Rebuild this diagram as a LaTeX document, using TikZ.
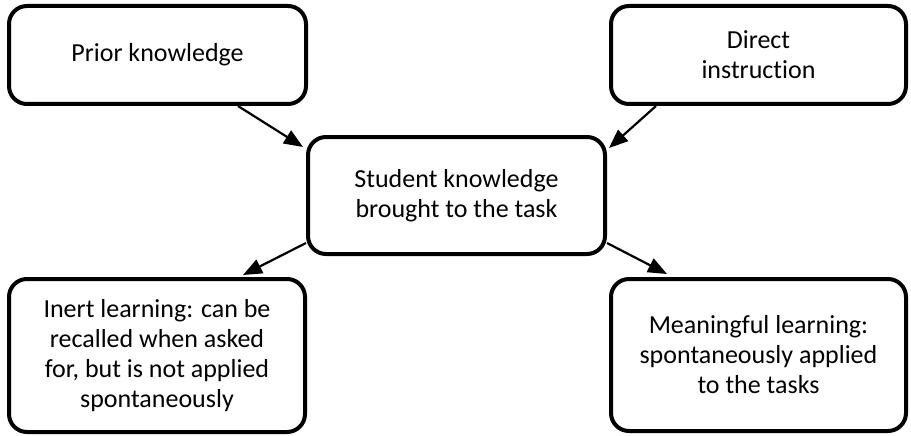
\documentclass[tikz,border=0pt]{standalone}
\usepackage{fontspec}
\setmainfont[Ligatures=NoCommon]{Carlito}
\usepackage{tikz}
\usetikzlibrary{arrows.meta}

\begin{document}
\begin{tikzpicture}[x=1pt, y=1pt,
		box/.style={draw=black, line width=4pt, rounded corners=18pt, fill=white, align=center, inner sep=0pt, font=\fontsize{26}{30}\selectfont},
		arr/.style={line width=2.2pt, -{Triangle[length=19pt, width=15pt]}}]
			%%%%% START %%%%%
			
			\useasboundingbox (0, 0) rectangle (911, -436);
			
			\node[box, minimum width=297, minimum height=98] (prior) at (157.5, -55) {Prior knowledge};
			\node[box, minimum width=295, minimum height=98] (direct) at (758.5, -55) {Direct\\instruction};
			\node[box, minimum width=297, minimum height=117] (student) at (456.5, -195.5) {Student knowledge\\brought to the task};
			\node[box, minimum width=296, minimum height=153] (inert) at (157, -355.5) {Inert learning: can be\\recalled when asked\\for, but is not applied\\spontaneously};
			\node[box, minimum width=295, minimum height=152] (meaning) at (758.5, -355) {Meaningful learning:\\spontaneously applied\\to the tasks};
			
			\draw[arr] ([xshift=-70]prior.south east) -- ([xshift=-3, yshift=-12]student.north west);
			\draw[arr] ([xshift=47]direct.south west) -- ([xshift=2, yshift=-13]student.north east);
			\draw[arr] ([yshift=13]student.south west) -- ([xshift=-64, yshift=2]inert.north east);
			\draw[arr] ([yshift=13]student.south east) -- ([xshift=58, yshift=3]meaning.north west);
			
			%%%%% END %%%%%
		\end{tikzpicture}
\end{document}
